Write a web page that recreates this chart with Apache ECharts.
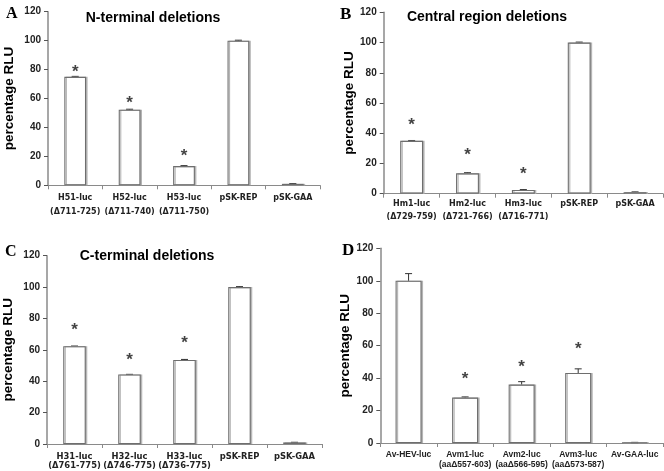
<!DOCTYPE html>
<html><head><meta charset="utf-8">
<script src="https://cdn.jsdelivr.net/npm/echarts@6/dist/echarts.min.js"></script>
<style>html,body{margin:0;padding:0;background:#fff}#c{width:664px;height:471px}</style>
</head><body><div id="c"></div>
<script>
// Panel A
const catsA = ['H51-luc\n(Δ711-725)', 'H52-luc\n(Δ711-740)', 'H53-luc\n(Δ711-750)', 'pSK-REP', 'pSK-GAA'];
const valsA = [75, 52.3, 13.3, 100, 1];
const errA = [0.3, 0.3, 0.3, 0.3, 0.2];
const starsA = [81, 59.5, 22.5, null, null];
// Panel B
const catsB = ['Hm1-luc\n(Δ729-759)', 'Hm2-luc\n(Δ721-766)', 'Hm3-luc\n(Δ716-771)', 'pSK-REP', 'pSK-GAA'];
const valsB = [35, 13.5, 2.5, 100, 1];
const errB = [0.2, 0.4, 0.2, 0.3, 0.2];
const starsB = [47.6, 27.8, 15.7, null, null];
// Panel C
const catsC = ['H31-luc\n(Δ761-775)', 'H32-luc\n(Δ746-775)', 'H33-luc\n(Δ736-775)', 'pSK-REP', 'pSK-GAA'];
const valsC = [62.3, 44.3, 53.6, 100, 1];
const errC = [0.1, 0.1, 0.3, 0.3, 0.1];
const starsC = [74.8, 55.6, 66.9, null, null];
// Panel D
const catsD = ['Av-HEV-luc', 'Avm1-luc\n(aaΔ557-603)', 'Avm2-luc\n(aaΔ566-595)', 'Avm3-luc\n(aaΔ573-587)', 'Av-GAA-luc'];
const valsD = [100, 28, 36, 43.2, 0.3];
const errD = [4.4, 0.4, 1.8, 2.5, 0.1];
const starsD = [null, 41.9, 49.1, 60.4, null];
const yTicks = [0, 20, 40, 60, 80, 100, 120];

const panels = [
  {cats: catsA, vals: valsA, err: errA, stars: starsA, grid: {left: 48, top: 11.7, right: 344, bottom: 285.7}, bw: '40%',
   lab: {font: 'DejaVu Sans', size: 8, lh: 14, margin: 6}},
  {cats: catsB, vals: valsB, err: errB, stars: starsB, grid: {left: 383.7, top: 12.3, right: 1, bottom: 277.3}, bw: '41%',
   lab: {font: 'DejaVu Sans', size: 8, lh: 12.4, margin: 4.5}},
  {cats: catsC, vals: valsC, err: errC, stars: starsC, grid: {left: 44.3, top: 255.7, right: 342, bottom: 27}, bw: '41%',
   lab: {font: 'DejaVu Sans', size: 8.4, lh: 9.5, margin: 8}},
  {cats: catsD, vals: valsD, err: errD, stars: starsD, grid: {left: 380.3, top: 248.3, right: 1, bottom: 28}, bw: '46%',
   lab: {font: 'Liberation Sans', size: 8.5, lh: 9.5, margin: 7}}
];

const grid = [], xAxis = [], yAxis = [], series = [];
panels.forEach((p, i) => {
  grid.push(p.grid);
  xAxis.push({
    type: 'category', gridIndex: i, data: p.cats,
    axisLine: {lineStyle: {color: '#8a8a8a', width: 1.2}},
    axisTick: {show: true, length: 4, lineStyle: {color: '#8a8a8a'}},
    axisLabel: {interval: 0, margin: p.lab.margin, color: '#222', fontFamily: p.lab.font, fontWeight: 'bold', fontSize: p.lab.size, lineHeight: p.lab.lh}
  });
  yAxis.push({
    type: 'value', gridIndex: i, min: 0, max: 120, interval: 20,
    name: 'percentage RLU', nameLocation: 'middle', nameGap: i % 2 === 0 ? 32 : 27,
    nameTextStyle: {fontFamily: 'Liberation Sans', fontWeight: 'bold', fontSize: 13.5, color: '#000'},
    axisLine: {show: true, lineStyle: {color: '#8a8a8a', width: 1.5}},
    axisTick: {show: true, length: 4, lineStyle: {color: '#555'}},
    splitLine: {show: false},
    axisLabel: {margin: 7, color: '#222', fontFamily: 'Liberation Sans', fontWeight: 'bold', fontSize: 10}
  });
  series.push({
    type: 'bar', xAxisIndex: i, yAxisIndex: i, data: p.vals, barWidth: p.bw,
    itemStyle: {color: '#fff', borderColor: '#6e6e6e', borderWidth: 1.1, shadowColor: '#b5b5b5', shadowOffsetX: 1.5, shadowBlur: 0},
    silent: true, animation: false
  });
  series.push({
    type: 'custom', xAxisIndex: i, yAxisIndex: i, animation: false, silent: true,
    data: p.vals.map((v, k) => [k, v - p.err[k], v + p.err[k]]),
    renderItem: function (params, api) {
      const lo = api.coord([api.value(0), api.value(1)]);
      const hi = api.coord([api.value(0), api.value(2)]);
      const hw = 3.5;
      const st = {stroke: '#333', lineWidth: 1};
      return {type: 'group', children: [
        {type: 'line', shape: {x1: hi[0], y1: hi[1], x2: lo[0], y2: lo[1]}, style: st},
        {type: 'line', shape: {x1: hi[0] - hw, y1: hi[1], x2: hi[0] + hw, y2: hi[1]}, style: st},
        {type: 'line', shape: {x1: lo[0] - hw, y1: lo[1], x2: lo[0] + hw, y2: lo[1]}, style: st}
      ]};
    }
  });
  series.push({
    type: 'scatter', xAxisIndex: i, yAxisIndex: i, symbolSize: 1, animation: false, silent: true,
    itemStyle: {color: 'rgba(0,0,0,0)'},
    data: p.stars.map((v, k) => v == null ? null : [k, v]).filter(d => d),
    label: {show: true, position: 'inside', formatter: '*', fontFamily: 'Liberation Sans', fontWeight: 'bold', fontSize: 17, color: '#111', offset: [0, 4]}
  });
});

const chart = echarts.init(document.getElementById('c'), null, {renderer: 'canvas'});
chart.setOption({
  animation: false,
  grid, xAxis, yAxis, series,
  title: [
    {text: 'N-terminal deletions', left: 148, top: 6, textAlign: 'center', textStyle: {fontFamily: 'Liberation Sans', fontWeight: 'bold', fontSize: 14, color: '#000'}},
    {text: 'Central region deletions', left: 482, top: 5, textAlign: 'center', textStyle: {fontFamily: 'Liberation Sans', fontWeight: 'bold', fontSize: 14, color: '#000'}},
    {text: 'C-terminal deletions', left: 142, top: 244, textAlign: 'center', textStyle: {fontFamily: 'Liberation Sans', fontWeight: 'bold', fontSize: 14, color: '#000'}},
    {text: 'A', left: 1, top: 1, textStyle: {fontFamily: 'Liberation Serif', fontWeight: 'bold', fontSize: 16, color: '#000'}},
    {text: 'B', left: 335, top: 1, textStyle: {fontFamily: 'Liberation Serif', fontWeight: 'bold', fontSize: 17, color: '#000'}},
    {text: 'C', left: 0, top: 239, textStyle: {fontFamily: 'Liberation Serif', fontWeight: 'bold', fontSize: 16, color: '#000'}},
    {text: 'D', left: 337, top: 237, textStyle: {fontFamily: 'Liberation Serif', fontWeight: 'bold', fontSize: 17, color: '#000'}}
  ]
});
</script></body></html>
